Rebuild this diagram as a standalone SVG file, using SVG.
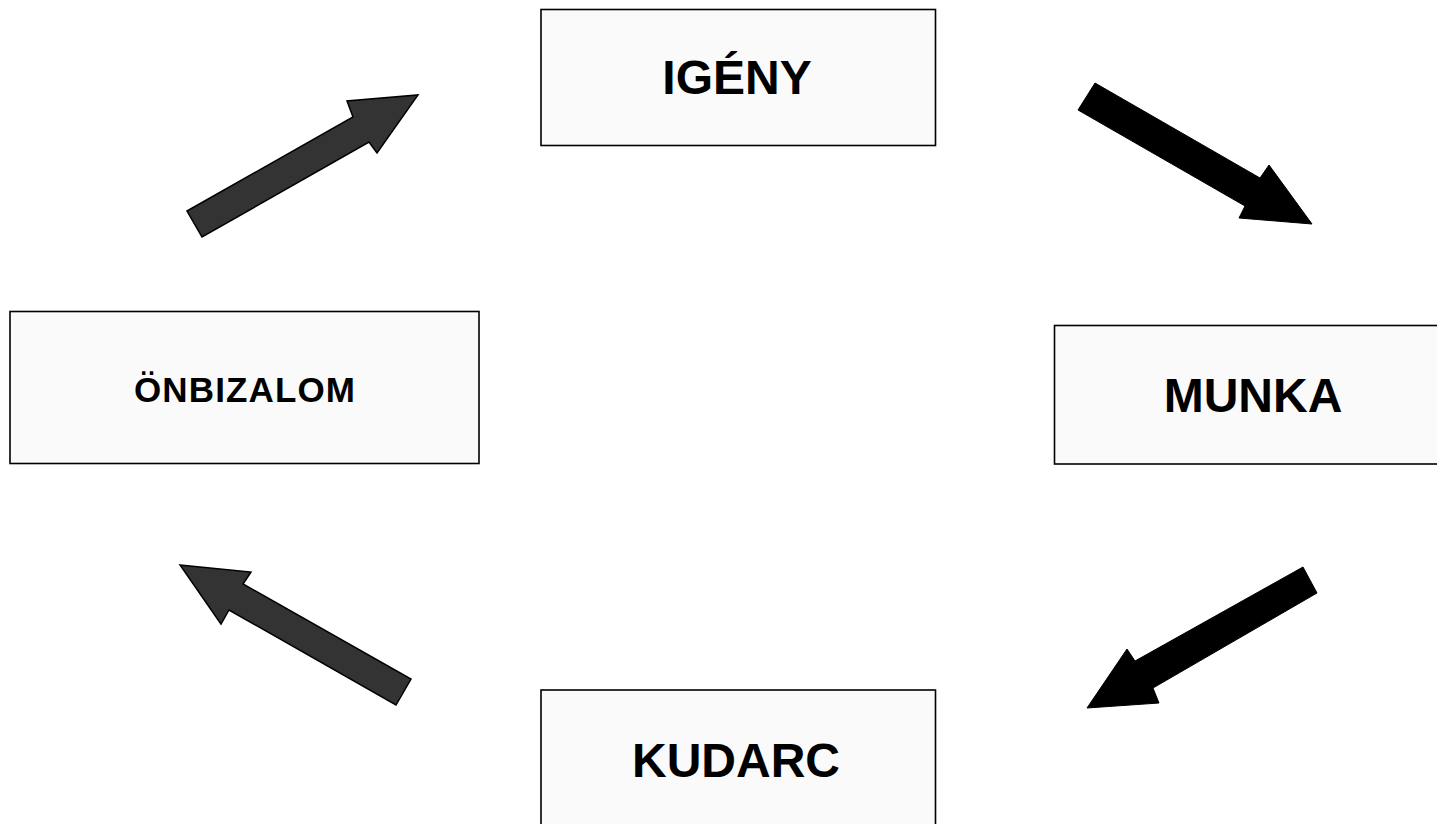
<svg xmlns="http://www.w3.org/2000/svg" width="1437" height="824" viewBox="0 0 1437 824">
<style>
.box{fill:#fafafa;stroke:#000;stroke-width:1.6}
.lbl{font-family:"Liberation Sans",Arial,sans-serif;font-weight:bold;fill:#000;text-anchor:middle}
.big{font-size:48px}
.mid{font-size:35px}
.arr-gray{fill:#333;stroke:#000;stroke-width:1.5;stroke-linejoin:miter}
.arr-black{fill:#000;stroke:#000;stroke-width:1}
</style>
<rect width="1437" height="824" fill="#fff"/>
<g id="connectors">
<polygon class="arr-gray" points="187,211 353,117 347,101 418,95 377,153 369,142 202,237"/>
<polygon class="arr-black" points="1095,83 1260,178 1269,165 1312,224 1239,218 1245,206 1078,110"/>
<polygon class="arr-black" points="1303,567 1317,593 1153,688 1159,703 1087,708 1127,649 1135,661"/>
<polygon class="arr-gray" points="180,565 251,572 243,584 411,679 396,705 229,610 221,624"/>
</g>
<g id="node-igeny">
<rect class="box" x="541" y="9.5" width="394.5" height="136"/>
<text class="lbl big" x="737" y="94">IGÉNY</text>
</g>
<g id="node-munka">
<rect class="box" x="1054.5" y="325.5" width="396" height="138.5"/>
<text class="lbl big" x="1253" y="412.3">MUNKA</text>
</g>
<g id="node-kudarc">
<rect class="box" x="541" y="690" width="394.5" height="150"/>
<text class="lbl big" x="736" y="776.7">KUDARC</text>
</g>
<g id="node-onbizalom">
<rect class="box" x="10" y="311.5" width="469" height="152"/>
<text class="lbl mid" x="244.5" y="401.7" textLength="221" lengthAdjust="spacing">ÖNBIZALOM</text>
</g>
</svg>
